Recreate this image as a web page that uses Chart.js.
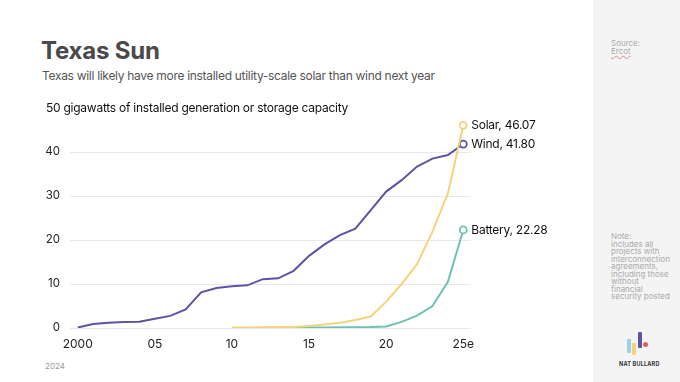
<!DOCTYPE html>
<html>
<head>
<meta charset="utf-8">
<script src="https://cdn.jsdelivr.net/npm/chart.js@4/dist/chart.umd.min.js"></script>
<style>
  html, body { margin:0; padding:0; background:#ffffff; }
  body { width:680px; height:382px; position:relative; overflow:hidden; font-family:Inter, "Noto Sans", sans-serif; }
  #side { position:absolute; left:593px; top:0; width:87px; height:382px; background:#f4f4f4; }
  .t { position:absolute; white-space:nowrap; }
  #title { left:41px; top:36px; font-size:24px; font-weight:700; color:#4a4a4a; letter-spacing:-0.2px; }
  #sub { left:42px; top:68px; font-size:12px; letter-spacing:-0.3px; color:#555; }
  #year { left:45px; top:361px; font-size:8px; color:#999; }
  .side { position:absolute; left:611px; font-size:8px; line-height:7.5px; color:#aaa; white-space:nowrap; }
  #src { top:40px; }
  #src u { text-decoration: underline wavy #e08080; text-decoration-thickness:0.5px; }
  #note { top:233px; }
  #chartwrap { position:absolute; left:0; top:0; width:590px; height:382px; }
  .bar { position:absolute; width:4px; border-radius:1px; }
  #brand { position:absolute; left:619px; top:361px; font-size:5.5px; font-weight:700; color:#333; letter-spacing:0.2px; }
</style>
</head>
<body>
<div id="side"></div>
<div class="t" id="title">Texas Sun</div>
<div class="t" id="sub">Texas will likely have more installed utility-scale solar than wind next year</div>
<div class="t" id="year">2024</div>
<div class="side" id="src">Source:<br><u>Ercot</u></div>
<div class="side" id="note">Note:<br>includes all<br>projects with<br>interconnection<br>agreements,<br>including those<br>without<br>financial<br>security posted</div>
<div class="bar" style="left:627px;top:339px;height:14px;background:#9fd0e0;"></div>
<div class="bar" style="left:632px;top:343px;height:12px;background:#f2d47c;"></div>
<div class="bar" style="left:638px;top:332px;height:16px;background:#5d54a4;"></div>
<div style="position:absolute;left:643px;top:342px;width:5px;height:5px;border-radius:50%;background:#e0605a;"></div>
<div id="brand">NAT BULLARD</div>
<div id="chartwrap"><canvas id="c"></canvas></div>
<script>
const years = ["2000","2001","2002","2003","2004","2005","2006","2007","2008","2009","2010","2011","2012","2013","2014","2015","2016","2017","2018","2019","2020","2021","2022","2023","2024","2025"];
const xTickLabels = {"2000":"2000","2005":"05","2010":"10","2015":"15","2020":"20","2025":"25e"};
const wind = [0.1,0.9,1.2,1.35,1.4,2.1,2.75,4.25,8.1,9.1,9.5,9.7,11.1,11.3,13.0,16.4,19.0,21.1,22.6,26.8,31.0,33.6,36.7,38.5,39.3,41.80];
const solar = [null,null,null,null,null,null,null,null,null,null,0.1,0.1,0.15,0.2,0.25,0.45,0.8,1.2,1.8,2.6,6.0,10.0,14.5,21.9,30.6,46.07];
const battery = [null,null,null,null,null,null,null,null,null,null,null,null,0.05,0.06,0.08,0.1,0.12,0.15,0.18,0.22,0.35,1.4,2.8,5.0,10.5,22.28];
const seriesNames = ["Wind","Solar","Battery"];
const yTicks = [0,10,20,30,40,50];
const yTitle = "50 gigawatts of installed generation or storage capacity";

const colors = {Wind:"#5d54a4", Solar:"#f2d47c", Battery:"#6fc1b3"};
const last = years.length - 1;

function ds(name, data) {
  return {
    label: name, data: data, borderColor: colors[name], borderWidth: 2, tension: 0,
    pointRadius: (c) => c.dataIndex === last ? 3.5 : 0,
    pointBackgroundColor: "#ffffff", pointBorderColor: colors[name], pointBorderWidth: 1.8,
    fill: false, spanGaps: false
  };
}

const labelPlugin = {
  id: "labels",
  afterDatasetsDraw(chart) {
    const ctx = chart.ctx;
    ctx.save();
    ctx.font = "12px Inter, 'Noto Sans', sans-serif";
    try { ctx.letterSpacing = "-0.25px"; } catch (e) {}
    ctx.fillStyle = "#111";
    ctx.textBaseline = "middle";
    ctx.textAlign = "left";
    chart.data.datasets.forEach((d, i) => {
      const pt = chart.getDatasetMeta(i).data[last];
      const v = d.data[last];
      ctx.fillText(d.label + ", " + v.toFixed(2), pt.x + 8, pt.y);
    });
    const ys = chart.scales.y;
    ctx.fillText(yTitle, 46, ys.getPixelForValue(yTicks[yTicks.length - 1]));
    ctx.restore();
  }
};

new Chart(document.getElementById("c"), {
  type: "line",
  data: { labels: years, datasets: [ds("Solar", solar), ds("Wind", wind), ds("Battery", battery)] },
  options: {
    responsive: true, maintainAspectRatio: false, animation: false, events: [],
    layout: { padding: { top: 108, right: 119, bottom: 14, left: 0 } },
    plugins: { legend: { display: false }, tooltip: { enabled: false } },
    scales: {
      x: {
        type: "category", offset: true,
        grid: { display: false }, border: { display: false },
        ticks: {
          autoSkip: false, maxRotation: 0, padding: 1, color: "#222",
          font: { family: "Inter", size: 12 },
          callback: function(val) { const l = this.getLabelForValue(val); return xTickLabels[l] || ""; }
        },
        afterFit: (s) => { s.height = 40; }
      },
      y: {
        min: 0, max: 50,
        afterBuildTicks: (s) => { s.ticks = yTicks.map(v => ({ value: v })); },
        grid: { color: (c) => c.tick && c.tick.value === 50 ? "rgba(0,0,0,0)" : "#e8e8e8", drawTicks: false, lineWidth: 1 },
        border: { display: false },
        ticks: { padding: 10, color: "#222", font: { family: "Inter", size: 11.5 },
          callback: (v) => v === 50 ? "" : String(v) },
        afterFit: (s) => { s.width = 70; }
      }
    }
  },
  plugins: [labelPlugin]
});
</script>
</body>
</html>
